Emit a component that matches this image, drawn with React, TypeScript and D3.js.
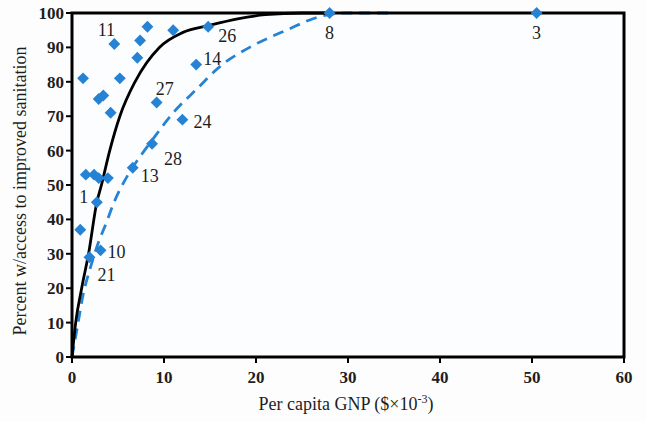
import * as d3 from 'd3';

// Scatter points: per capita GNP ($ x 10^-3) vs % with improved sanitation
const gnp = [1.2, 4.6, 8.2, 11, 14.8, 7.4, 7.1, 5.2, 2.9, 3.4, 4.2, 9.2, 13.5, 12, 8.7, 6.6, 1.5, 2.4, 2.9, 3.9, 2.7, 0.9, 3.1, 1.9, 28, 50.5];
const sanitation = [81, 91, 96, 95, 96, 92, 87, 81, 75, 76, 71, 74, 85, 69, 62, 55, 53, 53, 52, 52, 45, 37, 31, 29, 100, 100];
const pointIds = ['', '11', '', '', '26', '', '', '', '', '', '', '27', '14', '24', '28', '13', '', '', '', '', '1', '', '10', '21', '8', '3'];

// Fitted curves
const solidX = [0, 0.4, 1.05, 1.8, 2.7, 3.2, 4.1, 5.2, 6.85, 9.5, 12, 14.8, 18, 21, 25, 28];
const solidY = [0, 10, 20, 30, 45, 50, 60, 70, 80, 90, 94.3, 96.3, 98.3, 99.5, 100, 100];
const dashedX = [0, 0.6, 1.2, 2, 2.7, 3.8, 4.5, 6.1, 7.6, 8.7, 11, 13.6, 16.1, 19.3, 23.3, 27, 30, 35];
const dashedY = [0, 9, 18, 26, 32, 39.5, 44.5, 53, 59, 63, 71, 78, 84.5, 90, 95, 99, 100, 100];

const xTicks = [0, 10, 20, 30, 40, 50, 60];
const yTicks = [0, 10, 20, 30, 40, 50, 60, 70, 80, 90, 100];

// label offsets (px) relative to the marker: [dx, dy of baseline]
const labelOffset: Record<string, [number, number]> = {
  '11': [-8, -8],
  '26': [19, 15],
  '14': [16, 0],
  '27': [8, -7],
  '24': [20, 8],
  '28': [21, 21],
  '13': [17, 14],
  '1': [-13, 1],
  '10': [16, 8],
  '21': [17, 24],
  '8': [0, 26],
  '3': [0, 26],
};

const W = 646;
const H = 421;
const margin = { left: 72, right: 22, top: 13, bottom: 64 };
const BLUE = '#2683d3';
const TEXT = '#1e1e1e';
const FONT = '"Liberation Serif", "Times New Roman", serif';

export default function App() {
  const x = d3.scaleLinear().domain([0, 60]).range([margin.left, W - margin.right]);
  const y = d3.scaleLinear().domain([0, 100]).range([H - margin.bottom, margin.top]);

  const line = d3
    .line<[number, number]>()
    .x((d) => x(d[0]))
    .y((d) => y(d[1]))
    .curve(d3.curveMonotoneX);

  const solidPath = line(solidX.map((v, i) => [v, solidY[i]]) as [number, number][]) || '';
  const dashedPath = line(dashedX.map((v, i) => [v, dashedY[i]]) as [number, number][]) || '';

  const diamond = d3.symbol().type(d3.symbolDiamond2).size(90)() || '';

  const x0 = x(0);
  const x1 = x(60);
  const y0 = y(0);
  const y1 = y(100);

  return (
    <div style={{ position: 'absolute', left: 0, top: 0 }}>
      <svg width={W} height={H} style={{ display: 'block', background: '#fdfdfe' }} fontFamily={FONT}>
        <rect x={x0} y={y1} width={x1 - x0} height={y0 - y1} fill="#fcfdff" />

        {/* curves */}
        <path d={dashedPath} fill="none" stroke={BLUE} strokeWidth={2.8} strokeDasharray="11,7" />
        <path d={solidPath} fill="none" stroke="#000" strokeWidth={2.8} />

        {/* frame */}
        <rect x={x0} y={y1} width={x1 - x0} height={y0 - y1} fill="none" stroke="#000" strokeWidth={3} />

        {/* y axis */}
        {yTicks.map((t) => (
          <g key={'y' + t}>
            <line x1={x0 - 6} x2={x0} y1={y(t)} y2={y(t)} stroke="#000" strokeWidth={2} />
            <text x={x0 - 8} y={y(t)} dy="0.35em" textAnchor="end" fontSize={17} fontWeight="bold" fill={TEXT}>
              {t}
            </text>
          </g>
        ))}

        {/* x axis */}
        {xTicks.map((t) => (
          <g key={'x' + t}>
            <line x1={x(t)} x2={x(t)} y1={y0} y2={y0 + 6} stroke="#000" strokeWidth={2} />
            <text x={x(t)} y={y0 + 26} textAnchor="middle" fontSize={17} fontWeight="bold" fill={TEXT}>
              {t}
            </text>
          </g>
        ))}

        {/* markers */}
        {gnp.map((g, i) => (
          <path key={'p' + i} d={diamond} transform={`translate(${x(g)},${y(sanitation[i])})`} fill={BLUE} />
        ))}

        {/* point labels */}
        {pointIds.map((id, i) => {
          if (!id) return null;
          const [dx, dy] = labelOffset[id] || [10, 10];
          return (
            <text key={'l' + i} x={x(gnp[i]) + dx} y={y(sanitation[i]) + dy} textAnchor="middle" fontSize={18} fill={TEXT}>
              {id}
            </text>
          );
        })}

        {/* axis titles */}
        <text x={346} y={410} textAnchor="middle" fontSize={18} fill={TEXT}>
          Per capita GNP ($×10
          <tspan dy="-7" fontSize={12}>-3</tspan>
          <tspan dy="7">)</tspan>
        </text>
        <text
          transform={`translate(26,${(y0 + y1) / 2 + 6}) rotate(-90)`}
          textAnchor="middle"
          fontSize={18}
          fill={TEXT}
        >
          Percent w/access to improved sanitation
        </text>
      </svg>
    </div>
  );
}
